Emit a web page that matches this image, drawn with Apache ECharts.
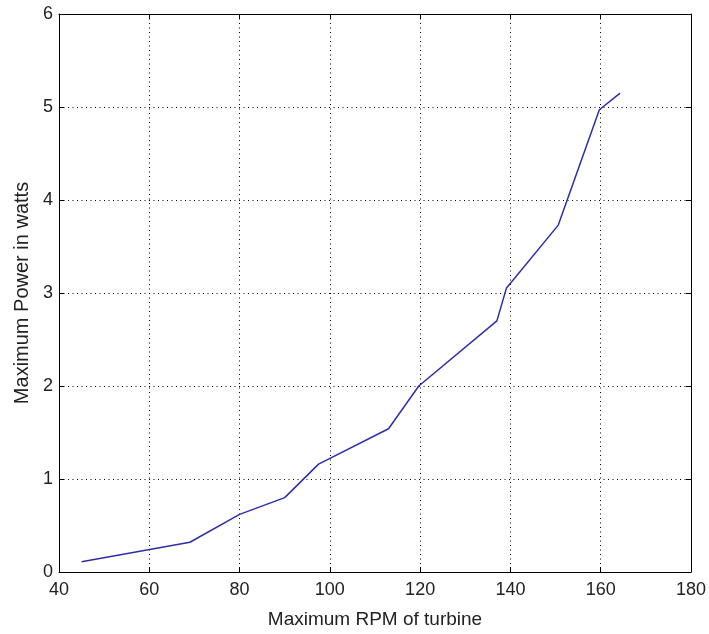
<!DOCTYPE html>
<html>
<head>
<meta charset="utf-8">
<script src="https://cdn.jsdelivr.net/npm/echarts@6/dist/echarts.min.js"></script>
<style>
  html, body { margin: 0; padding: 0; background: #fff; }
  #chart { width: 709px; height: 634px; }
</style>
</head>
<body>
<div id="chart"></div>
<script>
// values
const rpm = [45, 69, 80, 90, 97.5, 113, 119.7, 137, 139.1, 150.6, 159.7, 164.3]
const power = [0.11, 0.32, 0.62, 0.80, 1.16, 1.54, 2.0, 2.70, 3.05, 3.73, 4.97, 5.15]

const xTitle = 'Maximum RPM of turbine'
const yTitle = 'Maximum Power in watts'

const font = '"Liberation Sans", Arial, sans-serif'
const gridLine = { show: true, lineStyle: { color: '#000', width: 1, type: [1, 3.5] } }
const boxLine = { show: true, onZero: false, lineStyle: { color: '#000', width: 1 } }
const tick = { show: true, inside: true, length: 5, lineStyle: { color: '#000' } }

const chart = echarts.init(document.getElementById('chart'))
chart.setOption({
  animation: false,
  backgroundColor: '#fff',
  grid: { left: 59, right: 17, top: 14, bottom: 61 },
  xAxis: [
    {
      type: 'value', min: 40, max: 180, interval: 20,
      name: xTitle, nameLocation: 'middle', nameGap: 38,
      nameTextStyle: { fontFamily: font, fontSize: 19, color: '#222' },
      axisLine: boxLine, axisTick: tick,
      axisLabel: { fontFamily: font, fontSize: 18, color: '#222', margin: 9 },
      splitLine: gridLine
    },
    {
      type: 'value', min: 40, max: 180, interval: 20, position: 'top',
      axisLine: boxLine, axisTick: tick,
      axisLabel: { show: false }, splitLine: { show: false }
    }
  ],
  yAxis: [
    {
      type: 'value', min: 0, max: 6, interval: 1,
      name: yTitle, nameLocation: 'middle', nameGap: 27,
      nameTextStyle: { fontFamily: font, fontSize: 20, color: '#222' },
      axisLine: boxLine, axisTick: tick,
      axisLabel: { fontFamily: font, fontSize: 18, color: '#222', margin: 6 },
      splitLine: gridLine
    },
    {
      type: 'value', min: 0, max: 6, interval: 1, position: 'right',
      axisLine: boxLine, axisTick: tick,
      axisLabel: { show: false }, splitLine: { show: false }
    }
  ],
  series: [
    {
      type: 'line',
      xAxisIndex: 0,
      yAxisIndex: 0,
      data: rpm.map((x, i) => [x, power[i]]),
      showSymbol: false,
      lineStyle: { color: '#2e2ea8', width: 1.5 }
    }
  ]
})
</script>
</body>
</html>
